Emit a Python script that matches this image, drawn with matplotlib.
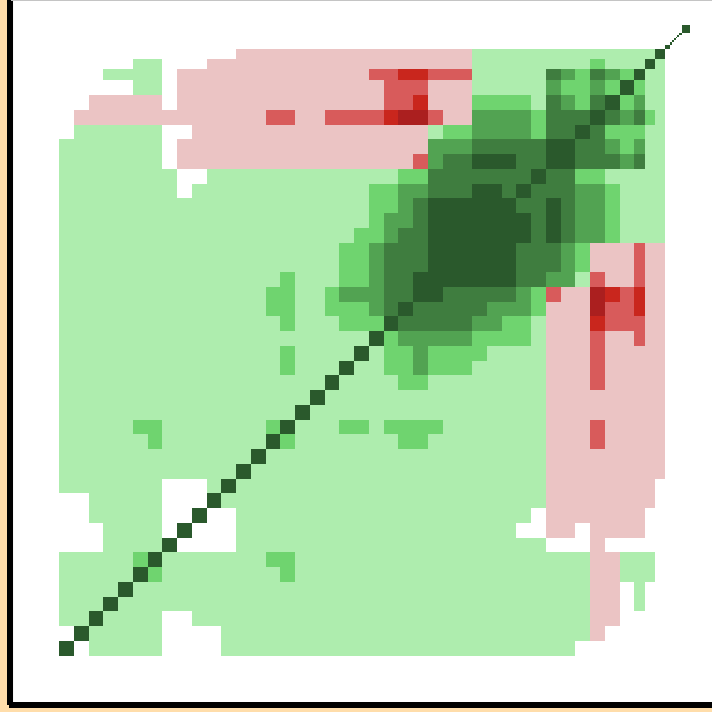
import matplotlib
matplotlib.use('Agg')
import matplotlib.pyplot as plt
from matplotlib.colors import ListedColormap, BoundaryNorm
from matplotlib.patches import Rectangle
import numpy as np

# ================== data ==================
# bin edges, the last ones get narrower
bin_edges = list(range(40)) + [39.76, 40.44, 41.1, 41.41, 41.58, 41.72, 41.85, 41.92, 42.06, 42.22, 42.77]

# level of each cell, top row first
# . empty, 1-5 positive (weak to strong), a-d negative (weak to strong)
rows = [
    '.'*12 + 'a'*16 + '1'*13 + '5',
    '.'*5 + '11' + '...' + 'a'*18 + '1'*8 + '2' + '111' + '5' + '1',
    '...' + '1111' + '.' + 'a'*13 + 'bb' + 'cc' + 'bbb' + '11111' + '4' + '3' + '2' + '4' + '3' + '2' + '5' + '11',
    '.'*5 + '11' + '.' + 'a'*14 + 'bbb' + 'aaa' + '11111' + '3' + '22' + '3' + '2' + '5' + '2' + '11',
    '..' + 'aaaaa' + '.' + 'a'*14 + 'bb' + 'c' + 'aaa' + '2222' + '1' + '4' + '3' + '2' + '4' + '5' + '2' + '3' + '11',
    '.' + 'a'*13 + 'bb' + 'aa' + 'bbbb' + 'c' + 'dd' + 'b' + 'aa' + '3333' + '2' + '444' + '5' + '4' + '3' + '4' + '2' + '1',
    '.' + '1'*6 + '..' + 'a'*16 + '1' + '22' + '3333' + '2' + '44' + '5' + '4' + '222' + '11',
    '1'*7 + '.' + 'a'*17 + '333' + '44444' + '55' + '44' + '3' + '2' + '3' + '11',
    '1'*7 + '.' + 'a'*16 + 'b' + '3' + '44' + '555' + '44' + '55' + '444' + '3' + '4' + '11',
    '1'*8 + '..' + '1'*13 + '22' + '4'*7 + '5' + '44' + '22' + '1'*5,
    '1'*8 + '.' + '1'*12 + '22' + '33' + '444' + '55' + '4' + '5' + '444' + '33' + '2' + '1111',
    '1'*21 + '22' + '3' + '4' + '5'*6 + '44' + '5' + '4' + '33' + '2' + '1111',
    '1'*21 + '2' + '33' + '4' + '5'*7 + '4' + '5' + '4' + '33' + '2' + '1111',
    '1'*20 + '22' + '3' + '44' + '5'*7 + '4' + '5' + '4' + '33' + '2' + '1111',
    '1'*19 + '22' + '3' + '444' + '5'*6 + '444' + '3' + '2' + 'aaa' + 'b' + 'aa',
    '1'*19 + '22' + '3' + '444' + '5'*6 + '444' + '3' + '2' + 'aaa' + 'b' + 'aa',
    '1'*15 + '2' + '111' + '22' + '3' + '44' + '5'*7 + '44' + '33' + '1' + 'b' + 'aa' + 'b' + 'aa',
    '1'*14 + '22' + '11' + '2' + '333' + '44' + '55' + '44444' + '3' + '2' + 'b' + 'aa' + 'd' + 'c' + 'b' + 'c' + 'aa',
    '1'*14 + '22' + '11' + '222' + '3' + '4' + '5' + '44444' + '333' + '2' + 'aaa' + 'd' + 'bb' + 'c' + 'aa',
    '1'*15 + '2' + '111' + '222' + '5' + '44444' + '33' + '22' + '1' + 'aaa' + 'c' + 'bbb' + 'aa',
    '1'*21 + '5' + '2' + '33333' + '2222' + '1' + 'aaa' + 'b' + 'aa' + 'b' + 'aa',
    '1'*15 + '2' + '1111' + '5' + '1' + '22' + '3' + '2222' + '1111' + 'aaa' + 'b' + 'aaaaa',
    '1'*15 + '2' + '111' + '5' + '11' + '22' + '3' + '222' + '11111' + 'aaa' + 'b' + 'aaaaa',
    '1'*18 + '5' + '1111' + '22' + '1'*8 + 'aaa' + 'b' + 'aaaaa',
    '1'*17 + '5' + '1'*15 + 'a'*9,
    '1'*16 + '5' + '1'*16 + 'a'*9,
    '11111' + '22' + '1'*7 + '2' + '5' + '111' + '22' + '1' + '2222' + '1'*7 + 'aaa' + 'b' + 'aaaaa',
    '1'*6 + '2' + '1'*7 + '5' + '2' + '1'*7 + '22' + '1'*8 + 'aaa' + 'b' + 'aaaaa',
    '1'*13 + '5' + '1'*19 + 'a'*9,
    '1'*12 + '5' + '1'*20 + 'a'*9,
    '1'*7 + '...' + '1' + '5' + '1'*21 + 'a'*8 + '.',
    '..' + '11111' + '...' + '5' + '1'*22 + 'a'*8 + '.',
    '..' + '11111' + '..' + '5' + '..' + '1'*20 + '.' + 'a'*7 + '..',
    '...' + '1111' + '.' + '5' + '...' + '1'*19 + '..' + 'aa' + '.' + 'aaaa' + '..',
    '...' + '1111' + '5' + '....' + '1'*21 + '...' + 'a' + '.'*5,
    '11111' + '2' + '5' + '1'*7 + '22' + '1'*20 + 'aa' + '111' + '.',
    '11111' + '5' + '2' + '1'*8 + '2' + '1'*20 + 'aa' + '111' + '.',
    '1111' + '5' + '1'*31 + 'aa' + '.' + '1' + '..',
    '111' + '5' + '1'*32 + 'aa' + '.' + '1' + '..',
    '11' + '5' + '1111' + '..' + '1'*27 + 'aa' + '....',
    '.' + '5' + '11111' + '....' + '1'*25 + 'a' + '.'*5,
    '5' + '.' + '11111' + '....' + '1'*24 + '.'*7,
]
# diagonal runs on past the last full row
tail_level = 5
n_tail = 8

level_codes = {'a': 0, 'b': 1, 'c': 2, 'd': 3, '1': 4, '2': 5, '3': 6, '4': 7, '5': 8}
colors = ['#EBC4C4', '#D85B5B', '#C9261D', '#AB1F1F',
          '#AEEDAE', '#6FD46F', '#52A352', '#3F7D3F', '#2A592C']

for i, r in enumerate(rows):
    if len(r) != 42:
        raise ValueError(f'row {i} has {len(r)} cells')

# ================== matrix ==================
n = 42 + n_tail
mat = np.full((n, n), np.nan)
for i, r in enumerate(rows):
    for j, ch in enumerate(r):
        if ch != '.':
            mat[41 - i, j] = level_codes[ch]
for k in range(42, n):
    mat[k, k] = level_codes[str(tail_level)]

# ================== figure ==================
W = 712
fig = plt.figure(figsize=(W / 100, W / 100), dpi=100, facecolor='#FFDDAA')

# black frame behind the panel
fig.add_artist(Rectangle((7 / W, 7 / W), 6 / W, 705 / W, transform=fig.transFigure, color='black', lw=0))
fig.add_artist(Rectangle((9 / W, 4 / W), 703 / W, 6 / W, transform=fig.transFigure, color='black', lw=0))

# panel spans px 11.5..712 across and 0..703.5 down
ax = fig.add_axes([11.5 / W, 8.5 / W, 700.5 / W, 703.5 / W])
ax.set_facecolor('white')
unit = 14.75
ax.set_xlim((11.5 - 59) / unit, (712 - 59) / unit)
ax.set_ylim((655.7 - 703.5) / unit, 655.7 / unit)
ax.set_xticks([])
ax.set_yticks([])
for s in ax.spines.values():
    s.set_color('#C4C4C4')
    s.set_linewidth(0.9)
ax.spines['right'].set_visible(False)
ax.spines['top'].set_visible(False)

cmap = ListedColormap(colors)
cmap.set_bad((1, 1, 1, 0))
norm = BoundaryNorm(np.arange(-0.5, 9.5), cmap.N)
ax.pcolormesh(bin_edges, bin_edges, np.ma.masked_invalid(mat), cmap=cmap, norm=norm,
              edgecolors='none', antialiased=False)

# thin grey line along the very top
fig.add_artist(Rectangle((11 / W, 711 / W), 701 / W, 1 / W, transform=fig.transFigure,
                         color='#C4C4C4', lw=0, zorder=5))

fig.savefig('out.png', dpi=100, facecolor=fig.get_facecolor())
